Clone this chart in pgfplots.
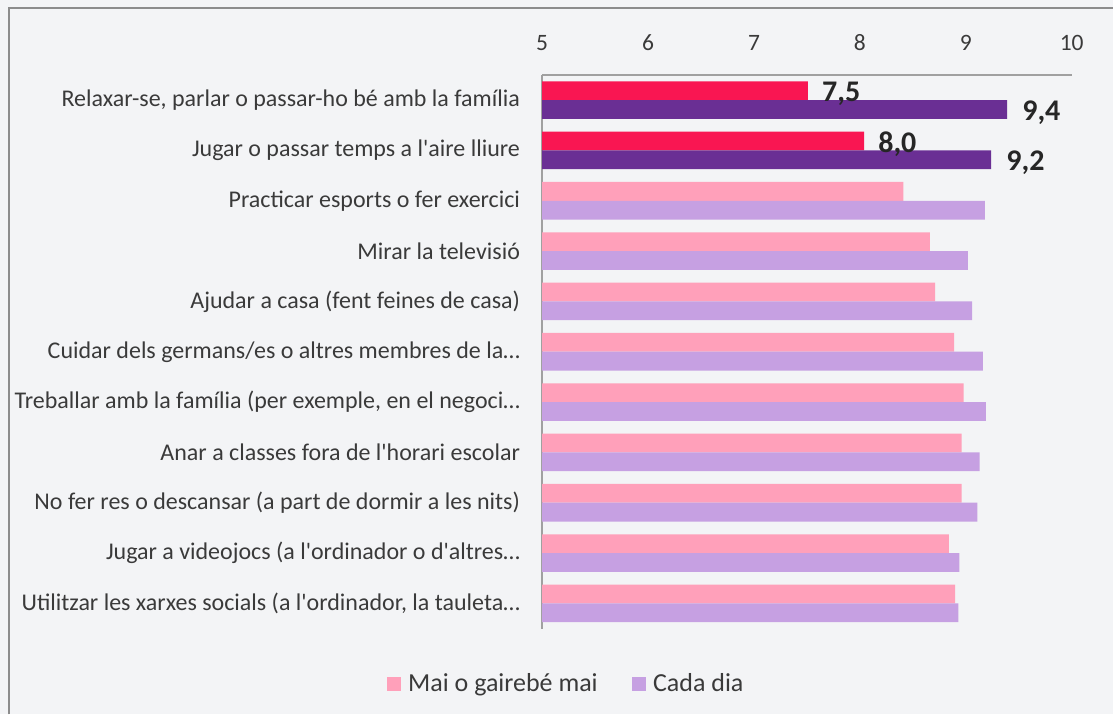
\documentclass[border=0pt]{standalone}
\usepackage{fontspec}
\setmainfont{Carlito}[Ligatures=TeXOff]
\usepackage{pgfplots}
\pgfplotsset{compat=1.18}
\definecolor{bg}{HTML}{F3F4F6}
\definecolor{framegray}{HTML}{8C8C8C}
\definecolor{axisgray}{HTML}{A0A0A0}
\definecolor{txt}{HTML}{3A3A3A}
\definecolor{vlab}{HTML}{262626}
\definecolor{crim}{HTML}{F91652}
\definecolor{dpurp}{HTML}{6A2F94}
\definecolor{lpink}{HTML}{FFA0BA}
\definecolor{lpurp}{HTML}{C6A0E2}
\begin{document}
\begin{tikzpicture}
\fill[bg] (0pt,0pt) rectangle (1114pt,715pt);
\draw[framegray, line width=1.6pt] (9pt,0pt) -- (9pt,707pt) -- (1114pt,707pt);
\begin{axis}[
  at={(542.5pt,86pt)}, anchor=south west,
  scale only axis, width=530pt, height=554pt,
  xmin=5, xmax=10, ymin=-0.5, ymax=10.5,
  xbar, bar width=18.8pt,
  axis x line*=top, axis y line*=left,
  axis line style={draw=axisgray, line width=1.4pt, -},
  xtick={5,6,7,8,9,10}, ytick={0,...,10},
  major tick length=0pt,
  /pgf/number format/assume math mode=true,
  xticklabel style={anchor=south, inner sep=0pt, yshift=24pt, text=txt, font=\fontsize{23.5}{23.5}\selectfont},
  yticklabel style={anchor=east, inner sep=0pt, xshift=-22pt, text=txt, font=\fontsize{24}{24}\selectfont},
  yticklabels={
    {Utilitzar les xarxes socials (a l'ordinador, la tauleta…},
    {Jugar a videojocs (a l'ordinador o d'altres…},
    {No fer res o descansar (a part de dormir a les nits)},
    {Anar a classes fora de l'horari escolar},
    {Treballar amb la família (per exemple, en el negoci…},
    {Cuidar dels germans/es o altres membres de la…},
    {Ajudar a casa (fent feines de casa)},
    {Mirar la televisió},
    {Practicar esports o fer exercici},
    {Jugar o passar temps a l'aire lliure},
    {Relaxar-se, parlar o passar-ho bé amb la família}},
  legend columns=2,
  legend style={at={(0.0453,-0.0993)}, anchor=center, draw=none, fill=none,
    font=\fontsize{26}{26}\selectfont, text=txt,
    /tikz/every odd column/.append style={column sep=5pt},
    /tikz/every even column/.append style={column sep=32pt}},
  legend image code/.code={\fill[#1] (0pt,-7pt) rectangle (14.5pt,7pt);},
]
\addplot[fill=lpink, draw=none, bar shift=9.4pt] coordinates {
  (8.90,0) (8.84,1) (8.96,2) (8.96,3) (8.98,4) (8.89,5) (8.71,6) (8.66,7) (8.41,8)};
\addlegendentry{Mai o gairebé mai}
\addplot[fill=lpurp, draw=none, bar shift=-9.4pt] coordinates {
  (8.93,0) (8.94,1) (9.11,2) (9.13,3) (9.19,4) (9.16,5) (9.06,6) (9.02,7) (9.18,8)};
\addlegendentry{Cada dia}
\addplot[fill=crim, draw=none, bar shift=9.4pt, point meta=x,
  nodes near coords={\pgfmathprintnumber[fixed,fixed zerofill,precision=1,use comma]{\pgfplotspointmeta}},
  nodes near coords style={anchor=west, inner sep=0pt, xshift=14pt, yshift=-3pt, text=vlab, font=\bfseries\fontsize{30}{30}\selectfont}]
  coordinates {(8.04,9) (7.51,10)};
\addplot[fill=dpurp, draw=none, bar shift=-9.4pt, point meta=x,
  nodes near coords={\pgfmathprintnumber[fixed,fixed zerofill,precision=1,use comma]{\pgfplotspointmeta}},
  nodes near coords style={anchor=west, inner sep=0pt, xshift=15pt, yshift=-3pt, text=vlab, font=\bfseries\fontsize{30}{30}\selectfont}]
  coordinates {(9.24,9) (9.39,10)};
\end{axis}
\end{tikzpicture}
\end{document}
